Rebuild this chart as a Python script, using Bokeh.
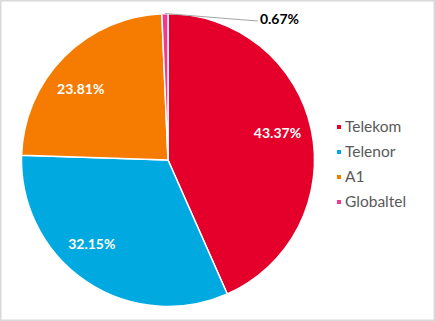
import math
import numpy as np
from bokeh.plotting import figure
from bokeh.models import Range1d, Legend, LegendItem
from bokeh.core.properties import value
from bokeh.embed import file_html
from bokeh.resources import INLINE

# ---- data ----
operators = ["Telekom", "Telenor", "A1", "Globaltel"]
shares = [43.37, 32.15, 23.81, 0.67]
colors = ["#E4002B", "#00A9E0", "#F57C00", "#F5378F"]

# ---- layout ----
W, H = 435, 321
CX, CY, R = 167.5, 321 - 159.5, 146.5
label_nudge_deg = [2.0, -8.5, 5.4]
label_rf = 0.77

fr = np.array(shares) / sum(shares)
cum = np.cumsum(fr)
prev = np.concatenate([[0.0], cum[:-1]])
start = math.pi / 2 - 2 * math.pi * prev
end = math.pi / 2 - 2 * math.pi * cum
mid = (start + end) / 2

p = figure(width=W, height=H, output_backend="svg", toolbar_location=None,
           x_range=Range1d(0, W), y_range=Range1d(0, H),
           x_axis_type=None, y_axis_type=None, min_border=0)
p.grid.visible = False
p.outline_line_color = "#D9D9D9"
p.outline_line_width = 2
p.background_fill_color = "white"
p.border_fill_color = "white"

items = []
for i in range(len(operators)):
    r = p.wedge(x=CX, y=CY, radius=R, start_angle=start[i], end_angle=end[i],
                direction="clock", fill_color=colors[i], line_color="white", line_width=1.5)
    items.append(LegendItem(label=operators[i], renderers=[r]))

# inside labels for the three big slices
lx, ly, lt = [], [], []
for i in range(3):
    a = mid[i] + math.radians(label_nudge_deg[i])
    lx.append(CX + label_rf * R * math.cos(a))
    ly.append(CY + label_rf * R * math.sin(a))
    lt.append(f"{shares[i]:.2f}%")
p.text(x=lx, y=ly, text=lt, text_color="white", text_font=value("Lato"),
       text_font_style="bold", text_font_size="14px", text_align="center",
       text_baseline="middle")

# outside label for the tiny slice with leader line
ex = CX + R * math.cos(mid[3])
ey = CY + R * math.sin(mid[3])
p.line(x=[ex, ex + 93], y=[ey, ey - 7.5], line_color="#A6A6A6", line_width=1)
p.text(x=[ex + 95], y=[ey - 4.5], text=[f"{shares[3]:.2f}%"], text_color="black",
       text_font=value("Lato"), text_font_style="bold", text_font_size="14px",
       text_align="left", text_baseline="middle")

legend = Legend(items=items, location=(335, 110), orientation="vertical",
                glyph_width=7, glyph_height=7, label_standoff=3, label_height=20,
                spacing=5, padding=0, margin=0, border_line_alpha=0,
                background_fill_alpha=0, label_text_font="Lato",
                label_text_font_size="15.5px", label_text_color="#595959")
p.add_layout(legend, "center")

open("out.html", "w").write(file_html(p, INLINE))
